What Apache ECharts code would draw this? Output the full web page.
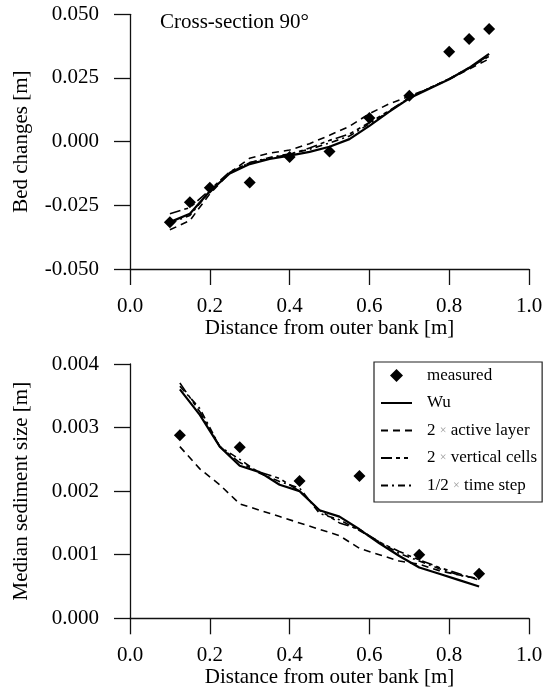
<!DOCTYPE html>
<html>
<head>
<meta charset="utf-8">
<script src="https://cdn.jsdelivr.net/npm/echarts@6/dist/echarts.min.js"></script>
<style>html,body{margin:0;padding:0;background:#fff}#c{width:547px;height:695px}</style>
</head>
<body>
<div id="c"></div>
<script>
// ---- Top chart: bed changes ----
var xMeasTop = [0.1, 0.15, 0.2, 0.3, 0.4, 0.5, 0.6, 0.7, 0.8, 0.85, 0.9];
var yMeasTop = [-0.0316, -0.0238, -0.0181, -0.0160, -0.0060, -0.0039, 0.0093, 0.0180, 0.0353, 0.0403, 0.0442];
var xTop = [0.1, 0.15, 0.2, 0.25, 0.3, 0.35, 0.4, 0.45, 0.5, 0.55, 0.6, 0.65, 0.7, 0.75, 0.8, 0.85, 0.9];
var wuTop = [-0.0316, -0.0283, -0.0195, -0.0125, -0.0088, -0.0068, -0.0055, -0.0040, -0.0020, 0.0010, 0.0062, 0.0118, 0.0170, 0.0208, 0.0245, 0.0290, 0.0345];
var activeTop = [-0.0346, -0.0310, -0.0205, -0.0122, -0.0065, -0.0045, -0.0033, -0.0008, 0.0025, 0.0060, 0.0110, 0.0149, 0.0178, 0.0210, 0.0245, 0.0285, 0.0325];
var vertTop = [-0.0283, -0.0259, -0.0190, -0.0118, -0.0083, -0.0065, -0.0050, -0.0025, 0.0005, 0.0030, 0.0075, 0.0122, 0.0172, 0.0210, 0.0247, 0.0290, 0.0335];
var timeTop = [-0.0320, -0.0290, -0.0195, -0.0122, -0.0082, -0.0062, -0.0048, -0.0030, -0.0005, 0.0022, 0.0070, 0.0120, 0.0172, 0.0210, 0.0246, 0.0288, 0.0340];

// ---- Bottom chart: median sediment size ----
var xMeasBot = [0.125, 0.275, 0.425, 0.575, 0.725, 0.875];
var yMeasBot = [0.00288, 0.00269, 0.00216, 0.00224, 0.00100, 0.00070];
var xBot = [0.125, 0.175, 0.225, 0.275, 0.325, 0.375, 0.425, 0.475, 0.525, 0.575, 0.625, 0.675, 0.725, 0.775, 0.825, 0.875];
var wuBot = [0.0036, 0.0032, 0.0027, 0.0024, 0.0023, 0.0021, 0.0020, 0.0017, 0.0016, 0.0014, 0.00118, 0.00098, 0.00080, 0.00070, 0.00060, 0.00050];
var activeBot = [0.0027, 0.00235, 0.0021, 0.0018, 0.0017, 0.0016, 0.0015, 0.0014, 0.0013, 0.0011, 0.0010, 0.0009, 0.00085, 0.00075, 0.00068, 0.00062];
var vertBot = [0.0037, 0.00325, 0.0027, 0.00245, 0.0023, 0.0022, 0.0020, 0.0017, 0.0015, 0.0014, 0.0012, 0.00105, 0.00092, 0.00080, 0.00070, 0.00060];
var timeBot = [0.00365, 0.0033, 0.0027, 0.0025, 0.00228, 0.00215, 0.00205, 0.00165, 0.00155, 0.00138, 0.0012, 0.00102, 0.00090, 0.00078, 0.00068, 0.00062];

var xTicks = ['0.0', '0.2', '0.4', '0.6', '0.8', '1.0'];
var names = ['measured', 'Wu', '2 \u00d7 active layer', '2 \u00d7 vertical cells', '1/2 \u00d7 time step'];
var panelLabel = 'Cross-section 90\u00b0';
var xName = 'Distance from outer bank [m]';
var yNameTop = 'Bed changes [m]';
var yNameBot = 'Median sediment size [m]';

function pairs(xs, ys) { return xs.map(function (x, i) { return [x, ys[i]]; }); }

var FONT = 'Liberation Serif';
var BLACK = '#000';

function xAxisCfg(gi) {
  return {
    gridIndex: gi, type: 'value', min: 0, max: 1, interval: 0.2,
    name: xName, nameLocation: 'middle', nameGap: 48,
    nameTextStyle: { fontFamily: FONT, fontSize: 21, color: BLACK },
    axisLine: { onZero: false, lineStyle: { color: '#111', width: 1.3 } },
    axisTick: { length: 16, lineStyle: { color: '#111', width: 1.3 } },
    axisLabel: { margin: 27, fontFamily: FONT, fontSize: 21, color: BLACK,
      formatter: function (v) { return xTicks[Math.round(v / 0.2)]; } },
    splitLine: { show: false }
  };
}
function yAxisCfg(gi, min, max, interval, name) {
  return {
    gridIndex: gi, type: 'value', min: min, max: max, interval: interval,
    name: name, nameLocation: 'middle', nameGap: 98,
    nameTextStyle: { fontFamily: FONT, fontSize: 21, color: BLACK },
    axisLine: { onZero: false, lineStyle: { color: '#111', width: 1.3 } },
    axisTick: { length: 16, lineStyle: { color: '#111', width: 1.3 } },
    axisLabel: { margin: 31, fontFamily: FONT, fontSize: 21, color: BLACK,
      formatter: function (v) { if (Math.abs(v) < 1e-9) v = 0; return v.toFixed(3); } },
    splitLine: { show: false }
  };
}

var styles = [
  null,
  { type: 'solid', width: 2.2 },
  { type: [7, 5], width: 1.6 },
  { type: [11, 4, 4, 4, 4, 4], width: 1.6 },
  { type: [7, 4, 2, 4], width: 1.6 }
];

function lineSeries(idx, gi, xs, ys) {
  return {
    name: names[idx], type: 'line', xAxisIndex: gi, yAxisIndex: gi,
    data: pairs(xs, ys), symbol: 'none', showSymbol: false, smooth: false,
    lineStyle: { color: BLACK, width: styles[idx].width, type: styles[idx].type },
    itemStyle: { color: BLACK }, z: 2, animation: false
  };
}
function measSeries(gi, xs, ys) {
  return {
    name: names[0], type: 'scatter', xAxisIndex: gi, yAxisIndex: gi,
    data: pairs(xs, ys), symbol: 'diamond', symbolSize: 12,
    itemStyle: { color: BLACK, opacity: 1 }, z: 5, animation: false
  };
}

var hideSym = { opacity: 0 };

var chart = echarts.init(document.getElementById('c'), null, { renderer: 'canvas' });
chart.setOption({
  backgroundColor: '#fff',
  animation: false,
  title: { text: panelLabel, left: 160, top: 12, padding: 0,
    textStyle: { fontFamily: FONT, fontSize: 21, fontWeight: 'normal', color: BLACK } },
  grid: [
    { left: 130, top: 14.3, width: 399, height: 254.7, outerBoundsMode: 'none', containLabel: false },
    { left: 130, top: 364, width: 399, height: 254.3, outerBoundsMode: 'none', containLabel: false }
  ],
  xAxis: [xAxisCfg(0), xAxisCfg(1)],
  yAxis: [yAxisCfg(0, -0.05, 0.05, 0.025, yNameTop), yAxisCfg(1, 0, 0.004, 0.001, yNameBot)],
  legend: {
    orient: 'vertical', left: 374, top: 362,
    data: [
      { name: names[0], icon: 'path://M0,-1L1,0L0,1L-1,0Z', itemStyle: { color: BLACK, opacity: 1 } },
      { name: names[1], itemStyle: hideSym },
      { name: names[2], itemStyle: hideSym },
      { name: names[3], itemStyle: hideSym },
      { name: names[4], itemStyle: hideSym }
    ],
    itemWidth: 31, itemHeight: 13, itemGap: 10.5,
    padding: [5, 5, 8, 6],
    borderColor: '#222', borderWidth: 1.2, borderRadius: 0,
    selectedMode: false,
    formatter: function (n) { return n.replace('\u00d7', '{x|\u00d7}'); },
    textStyle: { fontFamily: FONT, fontSize: 17, color: BLACK, padding: [0, 0, 0, 10],
      rich: { x: { fontFamily: FONT, fontSize: 12, color: '#999' } } }
  },
  series: [
    lineSeries(1, 0, xTop, wuTop),
    lineSeries(2, 0, xTop, activeTop),
    lineSeries(3, 0, xTop, vertTop),
    lineSeries(4, 0, xTop, timeTop),
    measSeries(0, xMeasTop, yMeasTop),
    lineSeries(1, 1, xBot, wuBot),
    lineSeries(2, 1, xBot, activeBot),
    lineSeries(3, 1, xBot, vertBot),
    lineSeries(4, 1, xBot, timeBot),
    measSeries(1, xMeasBot, yMeasBot)
  ]
});
</script>
</body>
</html>
